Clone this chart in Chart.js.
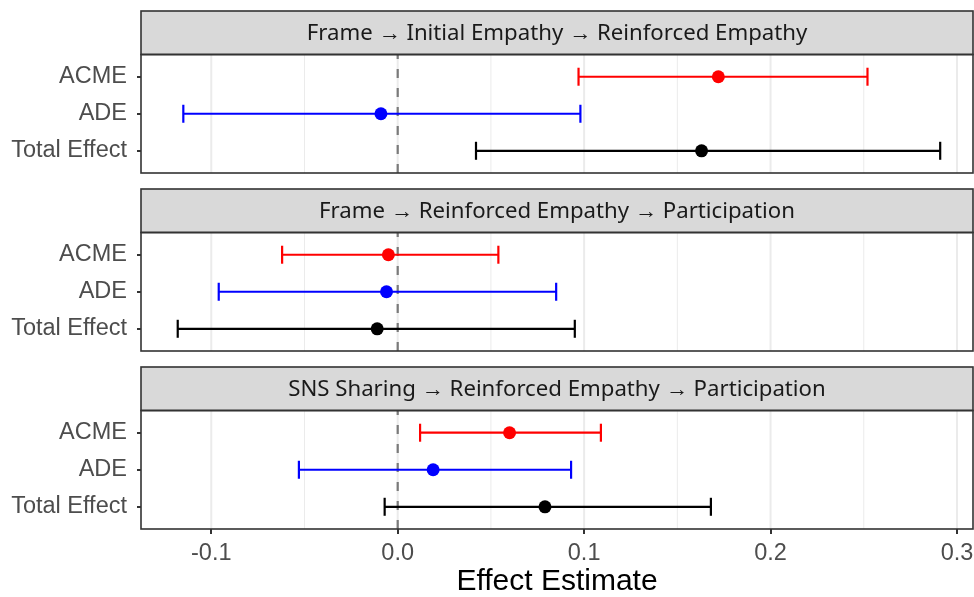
<!DOCTYPE html>
<html>
<head>
<meta charset="utf-8">
<script src="https://cdn.jsdelivr.net/npm/chart.js@4.4.1/dist/chart.umd.min.js"></script>
<style>
html,body{margin:0;padding:0;background:#fff;}
#wrap{width:974px;height:597px;position:relative;}
</style>
</head>
<body>
<div id="wrap"><canvas id="c" width="974" height="597"></canvas></div>
<script>
// ---- data ----
const panels = [
  'Frame \u2192 Initial Empathy \u2192 Reinforced Empathy',
  'Frame \u2192 Reinforced Empathy \u2192 Participation',
  'SNS Sharing \u2192 Reinforced Empathy \u2192 Participation'
];
const effects = ['ACME', 'ADE', 'Total Effect'];
const acmeEst  = [0.172, -0.005, 0.060];
const acmeLo   = [0.097, -0.062, 0.012];
const acmeHi   = [0.252,  0.054, 0.109];
const adeEst   = [-0.009, -0.006, 0.019];
const adeLo    = [-0.115, -0.096, -0.053];
const adeHi    = [0.098,  0.085, 0.093];
const totalEst = [0.163, -0.011, 0.079];
const totalLo  = [0.042, -0.118, -0.007];
const totalHi  = [0.291,  0.095, 0.168];
const xTicks   = [-0.1, 0.0, 0.1, 0.2, 0.3];
const refValue = 0;

// ---- layout (in row units) ----
const STRIP = 1.175, PLOT = 3.2, GAP = 0.432, EXPAND = 0.6;
const STRIDE = STRIP + PLOT + GAP;
const YMAX = 3 * (STRIP + PLOT) + 2 * GAP;
const XMIN = -0.1377, XMAX = 0.3086;
const colors = ['#ff0000', '#0000ff', '#000000'];

const series = [
  {est: acmeEst, lo: acmeLo, hi: acmeHi},
  {est: adeEst, lo: adeLo, hi: adeHi},
  {est: totalEst, lo: totalLo, hi: totalHi}
];
const rowY = (p, r) => p * STRIDE + STRIP + EXPAND + r;

const datasets = [];
series.forEach((s, r) => {
  datasets.push({
    type: 'scatter', order: 0,
    data: panels.map((_, p) => ({x: s.est[p], y: rowY(p, r)})),
    pointRadius: 6.5, pointHoverRadius: 6.5,
    backgroundColor: colors[r], borderWidth: 0, pointBorderWidth: 0
  });
});
series.forEach((s, r) => {
  panels.forEach((_, p) => {
    datasets.push({
      type: 'line', order: 1,
      data: [{x: s.lo[p], y: rowY(p, r)}, {x: s.hi[p], y: rowY(p, r)}],
      borderColor: colors[r], borderWidth: 2.2,
      pointStyle: 'line', pointRotation: 90, pointRadius: 9, pointHoverRadius: 9,
      pointBorderColor: colors[r], pointBorderWidth: 2.2, fill: false
    });
  });
});

const yTickVals = [];
panels.forEach((_, p) => effects.forEach((_, r) => yTickVals.push(rowY(p, r))));
const step = xTicks[1] - xTicks[0];
const minorTicks = [xTicks[0] - step / 2].concat(xTicks.map(v => v + step / 2));

const facetPlugin = {
  id: 'facets',
  beforeDatasetsDraw(chart) {
    const {ctx, chartArea: a, scales: {x, y}} = chart;
    panels.forEach((title, p) => {
      const base = p * STRIDE;
      const sTop = y.getPixelForValue(base);
      const sBot = y.getPixelForValue(base + STRIP);
      const pBot = y.getPixelForValue(base + STRIP + PLOT);
      ctx.save();
      ctx.fillStyle = '#d9d9d9';
      ctx.fillRect(a.left, sTop, a.right - a.left, sBot - sTop);
      ctx.fillStyle = '#1a1a1a';
      ctx.font = '22.2px "Noto Sans"';
      ctx.textAlign = 'center';
      ctx.textBaseline = 'middle';
      ctx.fillText(title, (a.left + a.right) / 2, (sTop + sBot) / 2 + 1);
      ctx.strokeStyle = '#ebebeb';
      ctx.lineWidth = 1;
      minorTicks.forEach(v => {
        const px = x.getPixelForValue(v);
        if (px > a.left && px < a.right) {
          ctx.beginPath(); ctx.moveTo(px, sBot); ctx.lineTo(px, pBot); ctx.stroke();
        }
      });
      ctx.lineWidth = 2;
      xTicks.forEach(v => {
        const px = x.getPixelForValue(v);
        if (px > a.left && px < a.right) {
          ctx.beginPath(); ctx.moveTo(px, sBot); ctx.lineTo(px, pBot); ctx.stroke();
        }
      });
      const zx = x.getPixelForValue(refValue);
      ctx.strokeStyle = '#7a7a7a';
      ctx.lineWidth = 2.2;
      ctx.setLineDash([9, 10]);
      ctx.beginPath(); ctx.moveTo(zx, pBot); ctx.lineTo(zx, sBot); ctx.stroke();
      ctx.restore();
    });
  },
  afterDatasetsDraw(chart) {
    const {ctx, chartArea: a, scales: {y}} = chart;
    panels.forEach((_, p) => {
      const base = p * STRIDE;
      const sTop = y.getPixelForValue(base);
      const sBot = y.getPixelForValue(base + STRIP);
      const pBot = y.getPixelForValue(base + STRIP + PLOT);
      ctx.save();
      ctx.strokeStyle = '#333333';
      ctx.lineWidth = 1.6;
      ctx.strokeRect(a.left, sTop, a.right - a.left, sBot - sTop);
      ctx.strokeRect(a.left, sBot, a.right - a.left, pBot - sBot);
      ctx.restore();
    });
  }
};

new Chart(document.getElementById('c'), {
  type: 'scatter',
  data: {datasets},
  plugins: [facetPlugin],
  options: {
    responsive: false,
    animation: false,
    devicePixelRatio: 1,
    layout: {autoPadding: false, padding: {top: 11, right: 1, left: 0, bottom: 0}},
    plugins: {legend: {display: false}, tooltip: {enabled: false}},
    scales: {
      x: {
        type: 'linear', min: XMIN, max: XMAX,
        afterBuildTicks: s => { s.ticks = xTicks.map(v => ({value: v})); },
        afterFit: s => { s.height = 68; s.paddingLeft = 0; s.paddingRight = 0; },
        grid: {drawOnChartArea: false, drawTicks: true, tickLength: 5, color: '#333333', lineWidth: 2},
        border: {display: false},
        ticks: {
          autoSkip: false, maxRotation: 0, padding: 5,
          color: '#4d4d4d', font: {family: '"Liberation Sans"', size: 23.5},
          callback: v => Number(v).toFixed(1)
        },
        title: {
          display: true, text: 'Effect Estimate', color: '#000000',
          font: {family: '"Liberation Sans"', size: 30, lineHeight: 1},
          padding: {top: 0, bottom: 0}
        }
      },
      y: {
        type: 'linear', min: 0, max: YMAX, reverse: true,
        afterBuildTicks: s => { s.ticks = yTickVals.map(v => ({value: v})); },
        afterFit: s => { s.width = 141; s.paddingTop = 0; s.paddingBottom = 0; },
        grid: {drawOnChartArea: false, drawTicks: true, tickLength: 4, color: '#333333', lineWidth: 2},
        border: {display: false},
        ticks: {
          autoSkip: false, padding: 10,
          color: '#4d4d4d', font: {family: '"Liberation Sans"', size: 23.5},
          callback: (v, i) => effects[i % effects.length]
        }
      }
    }
  }
});
</script>
</body>
</html>
